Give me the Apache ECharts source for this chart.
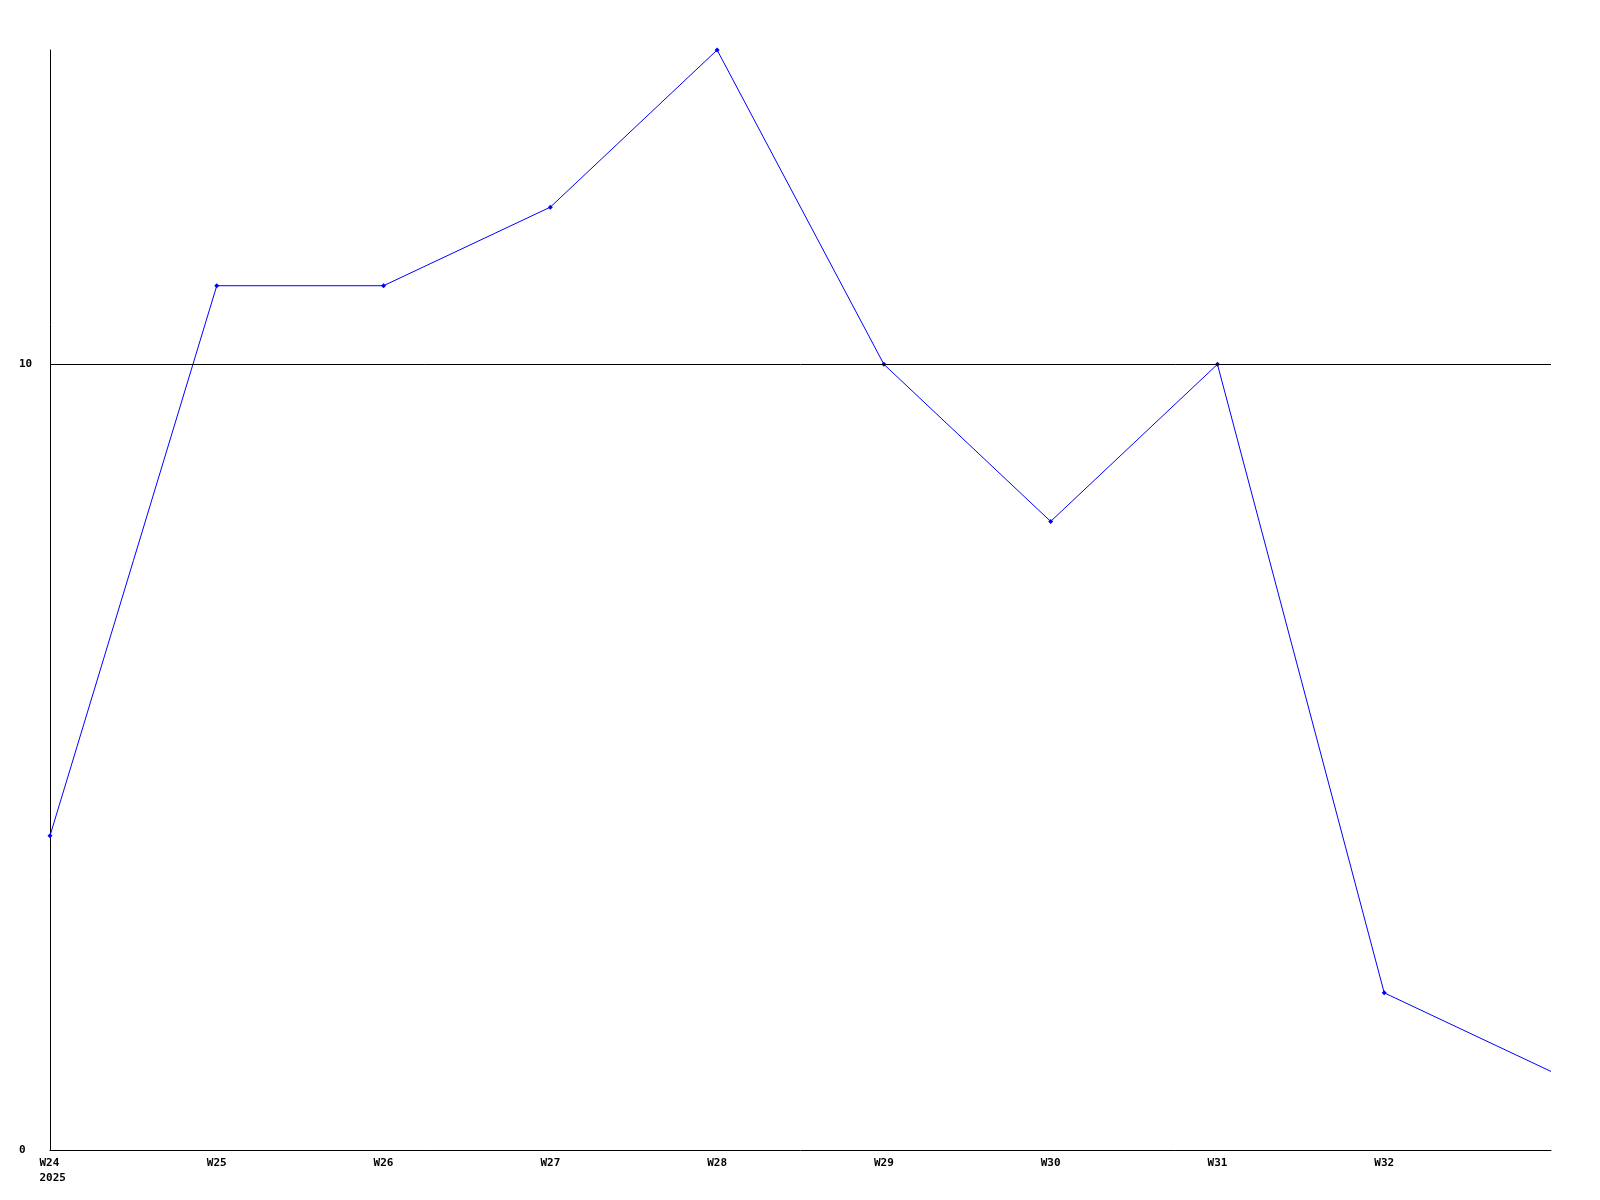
<!DOCTYPE html>
<html><head><meta charset="utf-8">
<script src="https://cdn.jsdelivr.net/npm/echarts@6/dist/echarts.min.js"></script>
<style>html,body{margin:0;padding:0;background:#fff}#c{width:1600px;height:1200px}</style>
</head><body><div id="c"></div>
<script>
var categories = ['W24','W25','W26','W27','W28','W29','W30','W31','W32','W33'];
var values = [4, 11, 11, 12, 14, 10, 8, 10, 2, 1];
var yTickLabels = [0, 10];
var yearLabel = '2025';

var chart = echarts.init(document.getElementById('c'), null, {renderer:'canvas'});
var font = {fontFamily:'DejaVu Sans Mono', fontWeight:'bold', fontSize:11, color:'#000'};
var seriesData = values.map(function(v, i){
  return i === values.length - 1 ? {value:v, symbol:'none'} : v;
});
chart.setOption({
  animation:false,
  backgroundColor:'#fff',
  grid:{left:50, right:49, top:50, bottom:50, containLabel:false},
  xAxis:{
    type:'category', data:categories, boundaryGap:false,
    axisLine:{lineStyle:{color:'#000', width:1}},
    axisTick:{show:false}, splitLine:{show:false},
    axisLabel:Object.assign({}, font, {
      margin:6, interval:0, lineHeight:15,
      rich:{
        a:Object.assign({}, font, {align:'left', width:21, lineHeight:15}),
        b:Object.assign({}, font, {align:'left', width:21, lineHeight:15})
      },
      formatter:function(v, i){
        if (i === categories.length - 1) return '';
        return i === 0 ? '{a|' + v + '}\n{b|' + yearLabel + '}' : v;
      }
    })
  },
  yAxis:{
    type:'value', min:0, max:14, interval:10,
    axisLine:{show:true, lineStyle:{color:'#000', width:1}},
    axisTick:{show:false}, splitLine:{show:false},
    axisLabel:Object.assign({}, font, {
      align:'left', margin:31,
      formatter:function(v){ return yTickLabels.indexOf(v) >= 0 ? String(v) : ''; }
    })
  },
  series:[{
    type:'line', data:seriesData,
    lineStyle:{color:'#0000ff', width:1},
    itemStyle:{color:'#0000ff'},
    symbol:'diamond', symbolSize:5, showAllSymbol:true,
    markLine:{
      silent:true, symbol:['none','none'], label:{show:false},
      lineStyle:{color:'#000', width:1, type:'solid'},
      data:[{yAxis:10}]
    },
    z:3
  }]
});
</script></body></html>
